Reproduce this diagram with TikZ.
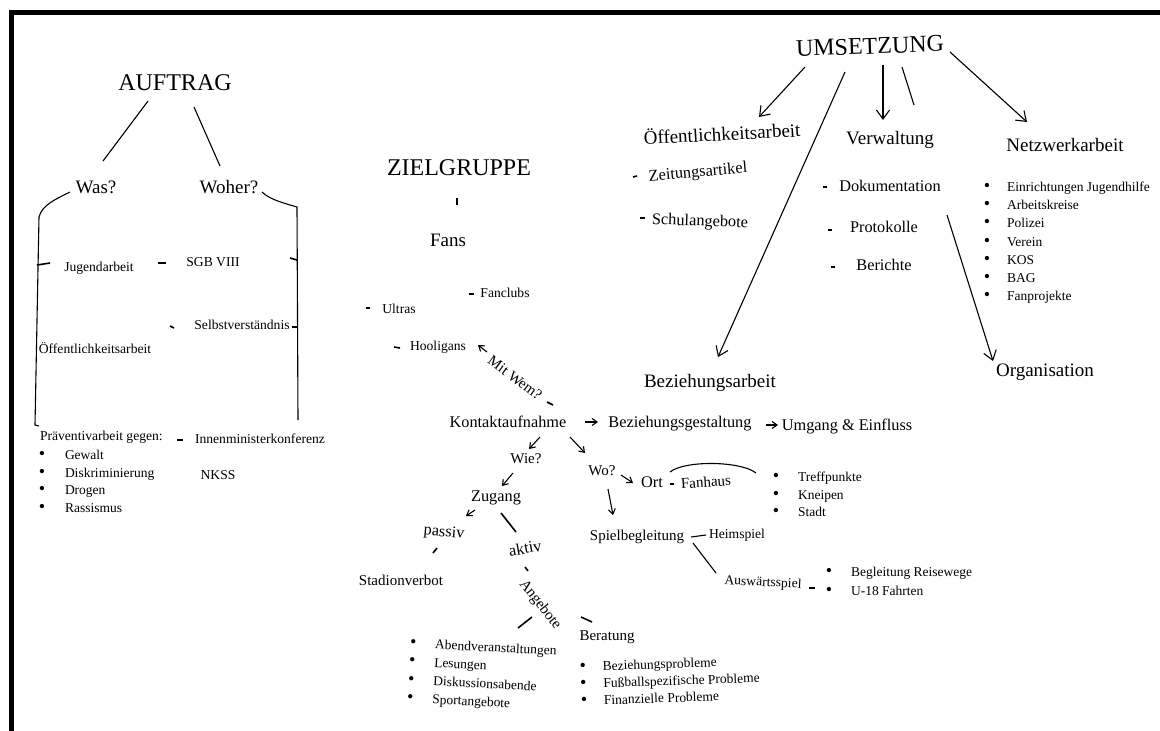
\documentclass[tikz,border=0pt]{standalone}
\usepackage{fontspec}
\setmainfont{Liberation Serif}
\usepackage{array}
\usepackage{tikz}
\usetikzlibrary{arrows.meta}

\begin{document}
\begin{tikzpicture}[x=1pt,y=-1pt,inner sep=0pt,outer sep=0pt,line width=1.1pt,
    head/.style={font=\fontsize{24}{28}\selectfont},
    sect/.style={font=\fontsize{19}{22}\selectfont},
    lbl/.style={font=\fontsize{16.3}{19}\selectfont},
    minor/.style={font=\fontsize{15}{18}\selectfont},
    note/.style={font=\fontsize{13.6}{16}\selectfont},
    lst/.style={font=\fontsize{13.5}{17.5}\selectfont,anchor=base west},
    arr/.style={-{Straight Barb[length=9pt,width=13pt]}},
    sarr/.style={-{Straight Barb[length=5pt,width=7pt]}},
    nick/.style={line width=1.6pt}]
      \useasboundingbox (0,0) rectangle (1160,731);
      \draw[line width=5pt] (11,740) -- (11,12.5) -- (1170,12.5);

      % Auftrag
      \node[head] (auftrag) at (175,83) {AUFTRAG};
      \node[sect] (was) at (96,187) {Was?};
      \node[sect] (woher) at (229,187) {Woher?};
      \draw ([shift={(-27,18)}]auftrag.center) -- ([shift={(7,-26)}]was.center);
      \draw ([shift={(19,24)}]auftrag.center) -- ([shift={(-9,-21)}]woher.center);
      \coordinate (wasfoot) at (35,425);
      \coordinate (woherfoot) at (298,420);
      \draw ([shift={(-26,5)}]was.center) .. controls +(-14,7) and +(3,-12) ..
        ++(-31,25) -- (wasfoot) -- ++(4,1);
      \draw ([shift={(33,5)}]woher.center) .. controls +(8,8) and +(-10,-3) ..
        ++(35,15) -- (woherfoot);
      \node[note] (jugend) at (99,268) {Jugendarbeit};
      \node[note] (sgb) at (213,262) {SGB VIII};
      \node[note] (selbst) at (242,325) {Selbstverständnis};
      \node[note] (oeffl) at (95,348) {Öffentlichkeitsarbeit};
      \draw[nick] ([shift={(-62,-3)}]jugend.center) -- ++(13,-2);
      \draw[nick] ([shift={(-55,1)}]sgb.center) -- ++(8,0);
      \draw[nick] ([shift={(77,-4)}]sgb.center) -- ++(7,2);
      \draw[nick] ([shift={(-72,1)}]selbst.center) -- ++(4,2);
      \draw[nick] ([shift={(50,2)}]selbst.center) -- ++(6,0);
      \node[note,anchor=west] (praev) at (40,437) {Präventivarbeit gegen:};
      \node[lst] (praevlist) at (38.85,459.5)
        {\begin{tabular}[t]{@{}>{\fontsize{18}{18}\selectfont}l@{\hspace{19.85pt}}l@{}}
        \textbullet & Gewalt\\ \textbullet & Diskriminierung\\
        \textbullet & Drogen\\ \textbullet & Rassismus\end{tabular}};
      \node[note] (innen) at (260,439) {Innenministerkonferenz};
      \node[note] (nkss) at (218,475) {NKSS};
      \draw[nick] ([shift={(-83,1)}]innen.center) -- ++(6,0);

      % Zielgruppe
      \node[head] (ziel) at (459,168) {ZIELGRUPPE};
      \node[sect] (fans) at (448,240) {Fans};
      \draw[nick] ([shift={(-2,30)}]ziel.center) -- ([shift={(9,-35)}]fans.center);
      \node[note] (fanclubs) at (505,293) {Fanclubs};
      \node[note] (ultras) at (399,309) {Ultras};
      \node[note] (hooligans) at (438,347) {Hooligans};
      \draw[nick] ([shift={(-36,1)}]fanclubs.center) -- ++(5,0);
      \draw[nick] ([shift={(-33,-1)}]ultras.center) -- ++(4,0);
      \draw[nick] ([shift={(-44,0)}]hooligans.center) -- ++(6,1);
      \node[minor,rotate=-37] (mitwem) at (515,378) {Mit Wem?};
      \draw[sarr] ([shift={(-28,-26)}]mitwem.center) -- ([shift={(40,-2)}]hooligans.center);
      \node[lbl] (kontakt) at (508,422) {Kontaktaufnahme};
      \draw[nick] ([shift={(32,24)}]mitwem.center) -- ([shift={(45,-17)}]kontakt.center);
      \node[lbl] (gestaltung) at (680,424) {Beziehungsgestaltung};
      \node[lbl] (umgang) at (847,427) {Umgang \& Einfluss};
      \draw[sarr] ([shift={(77,0)}]kontakt.center) -- ([shift={(-82,-2)}]gestaltung.center);
      \draw[sarr] ([shift={(86,1)}]gestaltung.center) -- ([shift={(-69,-2)}]umgang.center);
      \node[minor] (wie) at (526,459) {Wie?};
      \draw[sarr] ([shift={(32,15)}]kontakt.center) -- ([shift={(3,-10)}]wie.center);
      \node[lbl] (zugang) at (496,498) {Zugang};
      \draw[sarr] ([shift={(-13,14)}]wie.center) -- ([shift={(6,-12)}]zugang.center);
      \node[lbl,rotate=-5] (passiv) at (444,533) {passiv};
      \node[lbl,rotate=10] (aktiv) at (525,548) {aktiv};
      \draw[sarr] ([shift={(-21,12)}]zugang.center) -- ([shift={(22,-17)}]passiv.center);
      \draw[nick] ([shift={(5,15)}]zugang.center) -- ([shift={(-9,-16)}]aktiv.center);
      \node[minor] (stadion) at (401,580) {Stadionverbot};
      \draw[nick] ([shift={(-7,15)}]passiv.center) -- ([shift={(32,-27)}]stadion.center);
      \node[minor,rotate=-52] (angebote) at (540,605) {Angebote};
      \draw[nick] ([shift={(0,19)}]aktiv.center) -- ([shift={(-12,-34)}]angebote.center);
      \node[minor] (beratung) at (607,637) {Beratung};
      \node[lst,font=\fontsize{13.5}{18.3}\selectfont,rotate=-3] (angebotlist) at (409.85,647.5)
        {\begin{tabular}[t]{@{}>{\fontsize{18}{18}\selectfont}l@{\hspace{18.85pt}}l@{}}
        \textbullet & Abendveranstaltungen\\ \textbullet & Lesungen\\
        \textbullet & Diskussionsabende\\ \textbullet & Sportangebote\end{tabular}};
      \node[lst,font=\fontsize{13.5}{17}\selectfont,rotate=2] (beratlist) at (579.85,671.5)
        {\begin{tabular}[t]{@{}>{\fontsize{18}{18}\selectfont}l@{\hspace{16.85pt}}l@{}}
        \textbullet & Beziehungsprobleme\\ \textbullet & Fußballspezifische Probleme\\
        \textbullet & Finanzielle Probleme\end{tabular}};
      \draw[nick] ([shift={(-8,12)}]angebote.center) -- ([shift={(108.15,-19.5)}]angebotlist.base west);
      \draw[nick] ([shift={(41,12)}]angebote.center) -- ([shift={(-15,-15)}]beratung.center);
      \node[minor] (wo) at (602,471) {Wo?};
      \draw[sarr] ([shift={(62,15)}]kontakt.center) -- ([shift={(-17,-18)}]wo.center);
      \node[lbl] (ort) at (652,482) {Ort};
      \draw[sarr] ([shift={(19,4)}]wo.center) -- ([shift={(-19,1)}]ort.center);
      \node[minor,rotate=4] (fanhaus) at (706,482) {Fanhaus};
      \draw[nick] ([shift={(18,2)}]ort.center) -- ([shift={(-32,2)}]fanhaus.center);
      \node[lst] (trefflist) at (772.85,481.5)
        {\begin{tabular}[t]{@{}>{\fontsize{18}{18}\selectfont}l@{\hspace{18.85pt}}l@{}}
        \textbullet & Treffpunkte\\ \textbullet & Kneipen\\ \textbullet & Stadt\end{tabular}};
      \draw ([shift={(-36,-10)}]fanhaus.center) .. controls +(15,-12) and +(-15,-12) ..
        ([shift={(-16.85,-8.5)}]trefflist.base west);
      \node[minor] (spiel) at (637,537) {Spielbegleitung};
      \draw[sarr] ([shift={(6,18)}]wo.center) -- ([shift={(-24,-22)}]spiel.center);
      \node[note] (heim) at (737,535) {Heimspiel};
      \draw ([shift={(54,0)}]spiel.center) -- ([shift={(-31,0)}]heim.center);
      \node[note,rotate=-3] (auswaerts) at (763,583) {Auswärtsspiel};
      \draw ([shift={(56,6)}]spiel.center) -- ([shift={(-47,-10)}]auswaerts.center);
      \node[lst,font=\fontsize{13.5}{19}\selectfont] (reiselist) at (825.85,576.5)
        {\begin{tabular}[t]{@{}>{\fontsize{18}{18}\selectfont}l@{\hspace{18.85pt}}l@{}}
        \textbullet & Begleitung Reisewege\\ \textbullet & U-18 Fahrten\end{tabular}};
      \draw[nick] ([shift={(46,5)}]auswaerts.center) -- ([shift={(-10.85,11.5)}]reiselist.base west);

      % Umsetzung
      \node[head,rotate=2] (umsetzung) at (870,46) {UMSETZUNG};
      \node[sect,rotate=3] (oeffr) at (722,133) {Öffentlichkeitsarbeit};
      \node[sect] (verwaltung) at (890,140) {Verwaltung};
      \node[sect] (netz) at (1065,145) {Netzwerkarbeit};
      \node[sect] (beziehung) at (710,383) {Beziehungsarbeit};
      \node[sect] (orga) at (1045,372) {Organisation};
      \draw[arr] ([shift={(-65,21)}]umsetzung.center) -- ([shift={(37,-16)}]oeffr.center);
      \draw[arr] ([shift={(-25,26)}]umsetzung.center) -- ([shift={(8,-26)}]beziehung.center);
      \draw[arr] ([shift={(13,19)}]umsetzung.center) -- ([shift={(-7,-20)}]verwaltung.center);
      \draw ([shift={(32,21)}]umsetzung.center) -- ++(12,38);
      \draw[arr] ([shift={(80,6)}]umsetzung.center) -- ([shift={(-38,-23)}]netz.center);
      \node[lbl,rotate=5] (zeitung) at (698,173) {Zeitungsartikel};
      \node[lbl,rotate=-2] (schul) at (700,222) {Schulangebote};
      \node[lbl] (doku) at (890,186) {Dokumentation};
      \node[lbl] (proto) at (884,227) {Protokolle};
      \node[lbl] (bericht) at (884,265) {Berichte};
      \draw[nick] ([shift={(-65,4)}]zeitung.center) -- ++(4,-1);
      \draw[nick] ([shift={(-60,-4)}]schul.center) -- ++(5,0);
      \draw[nick] ([shift={(-67,1)}]doku.center) -- ++(4,0);
      \draw[nick] ([shift={(-56,3)}]proto.center) -- ++(4,0);
      \draw[nick] ([shift={(-53,2)}]bericht.center) -- ++(4,0);
      \draw[arr] ([shift={(57,29)}]doku.center) -- ([shift={(-52,-11)}]orga.center);
      \node[lst,font=\fontsize{13.5}{18.2}\selectfont] (netzlist) at (983.85,191.5)
        {\begin{tabular}[t]{@{}>{\fontsize{18}{18}\selectfont}l@{\hspace{16.85pt}}l@{}}
        \textbullet & Einrichtungen Jugendhilfe\\ \textbullet & Arbeitskreise\\
        \textbullet & Polizei\\ \textbullet & Verein\\ \textbullet & KOS\\
        \textbullet & BAG\\ \textbullet & Fanprojekte\end{tabular}};

    \end{tikzpicture}
\end{document}
